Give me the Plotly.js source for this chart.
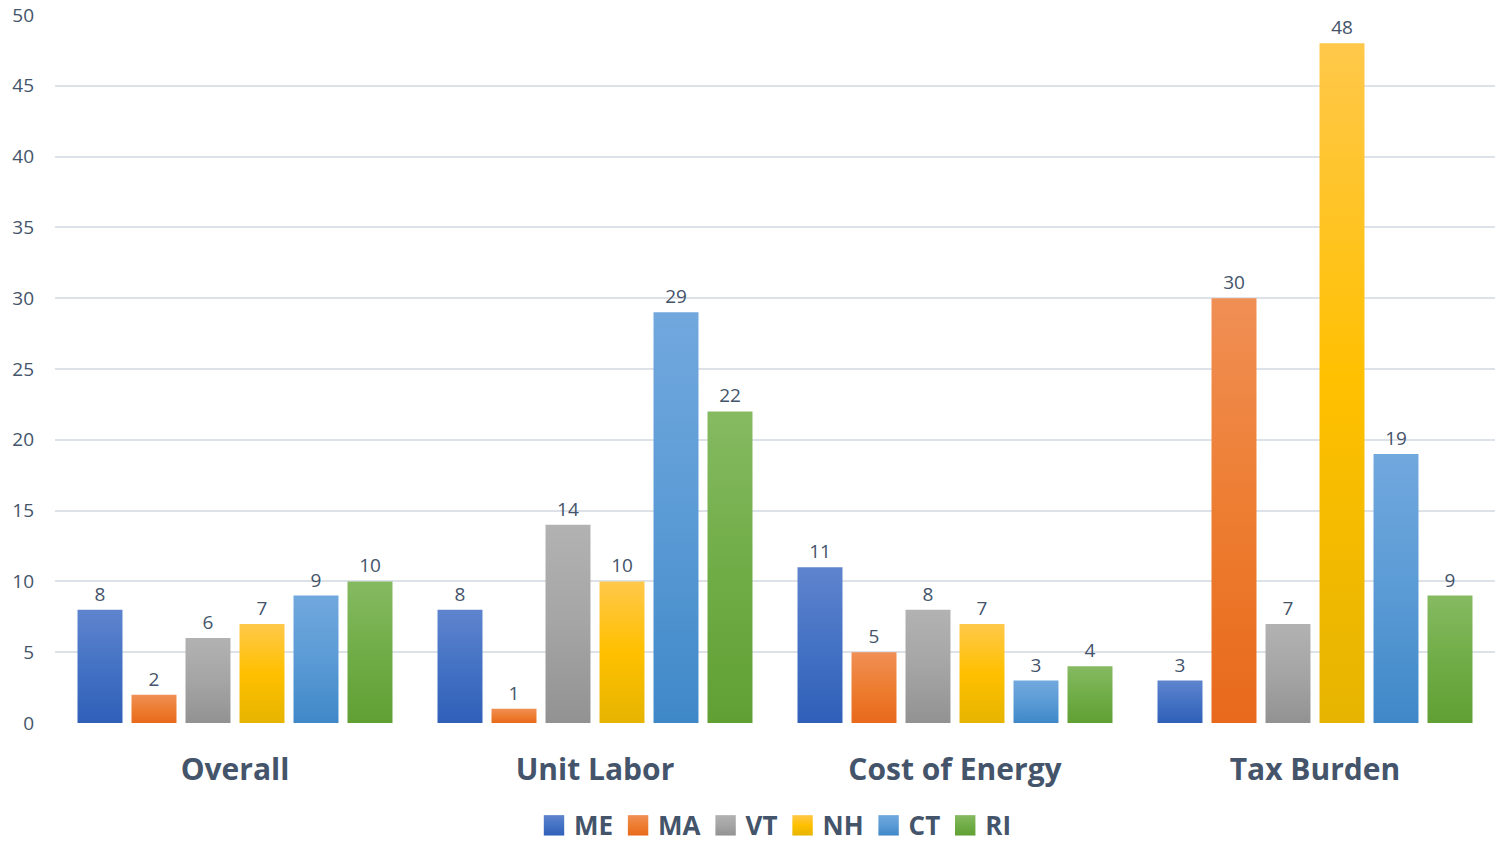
<!DOCTYPE html>
<html><head><meta charset="utf-8">
<script src="https://cdn.plot.ly/plotly-3.0.1.min.js"></script>
<style>html,body{margin:0;padding:0;background:#fff}#chart{width:1498px;height:844px}</style>
</head><body><div id="chart"></div>
<script>
const categories = ["Overall", "Unit Labor", "Cost of Energy", "Tax Burden"];
const seriesNames = ["ME", "MA", "VT", "NH", "CT", "RI"];
const ME = [8, 8, 11, 3];
const MA = [2, 1, 5, 30];
const VT = [6, 14, 8, 7];
const NH = [7, 10, 7, 48];
const CT = [9, 29, 3, 19];
const RI = [10, 22, 4, 9];
const seriesValues = [ME, MA, VT, NH, CT, RI];
const yTicks = [0, 5, 10, 15, 20, 25, 30, 35, 40, 45, 50];

const midColors = ["#4472C4", "#ED7D31", "#A5A5A5", "#FFC000", "#5B9BD5", "#70AD47"];
const topColors = ["#5F84CE", "#F08F55", "#B2B2B2", "#FFC84A", "#71A8DE", "#86BA62"];
const botColors = ["#2F5FB8", "#E8691B", "#929292", "#E6B400", "#3F88C8", "#60A033"];
const textColor = "#44546A";

const traces = seriesNames.map((name, i) => ({
  type: "bar",
  name: name,
  x: categories,
  y: seriesValues[i],
  text: seriesValues[i].map(String),
  textposition: "outside",
  textfont: {family: "Open Sans, sans-serif", size: 19, color: textColor},
  cliponaxis: false,
  marker: {color: midColors[i], line: {width: 0}},
  hoverinfo: "x+y+name"
}));

const layout = {
  width: 1498, height: 844,
  margin: {l: 55, r: 3, t: 15, b: 121},
  paper_bgcolor: "#ffffff", plot_bgcolor: "#ffffff",
  barmode: "group",
  bargap: 0.1,
  bargroupgap: 0.167,
  font: {family: "Open Sans, sans-serif", color: textColor},
  xaxis: {
    tickfont: {family: "Open Sans, sans-serif", size: 30, color: textColor, weight: "bold"},
    showgrid: false, zeroline: false, showline: false, ticks: "",
    ticklabelstandoff: 26
  },
  yaxis: {
    range: [0, 50], tickvals: yTicks,
    tickfont: {family: "Open Sans, sans-serif", size: 19, color: textColor},
    gridcolor: "#DDE1E8", gridwidth: 2,
    zeroline: false, showline: false, ticks: "",
    ticklabelstandoff: 20
  },
  showlegend: true,
  legend: {
    orientation: "h", x: 0.5, xanchor: "center",
    yref: "container", y: 0.022, yanchor: "middle",
    font: {family: "Open Sans, sans-serif", size: 26, color: textColor, weight: "bold"},
    itemwidth: 30, tracegroupgap: 0, borderwidth: 0
  }
};

Plotly.newPlot("chart", traces, layout, {displayModeBar: false, staticPlot: true}).then(gd => {
  const svg = gd.querySelector("svg.main-svg");
  const ns = "http://www.w3.org/2000/svg";
  let defs = svg.querySelector("defs");
  if (!defs) { defs = document.createElementNS(ns, "defs"); svg.insertBefore(defs, svg.firstChild); }
  seriesNames.forEach((n, i) => {
    const g = document.createElementNS(ns, "linearGradient");
    g.setAttribute("id", "grad" + i);
    g.setAttribute("x1", "0"); g.setAttribute("y1", "0");
    g.setAttribute("x2", "0"); g.setAttribute("y2", "1");
    [[0, topColors[i]], [0.5, midColors[i]], [1, botColors[i]]].forEach(([o, c]) => {
      const s = document.createElementNS(ns, "stop");
      s.setAttribute("offset", o); s.setAttribute("stop-color", c);
      g.appendChild(s);
    });
    defs.appendChild(g);
  });
  gd.querySelectorAll(".barlayer .trace").forEach((tr, i) => {
    tr.querySelectorAll("path").forEach(p => { p.style.fill = "url(#grad" + i + ")"; });
  });
  gd.querySelectorAll(".legend .traces").forEach((tr, i) => {
    tr.querySelectorAll(".legendpoints path").forEach(p => {
      p.style.fill = "url(#grad" + i + ")";
      const t = p.getAttribute("transform") || "";
      p.setAttribute("transform", t + " scale(1.7)");
    });
  });
});
</script>
</body></html>
